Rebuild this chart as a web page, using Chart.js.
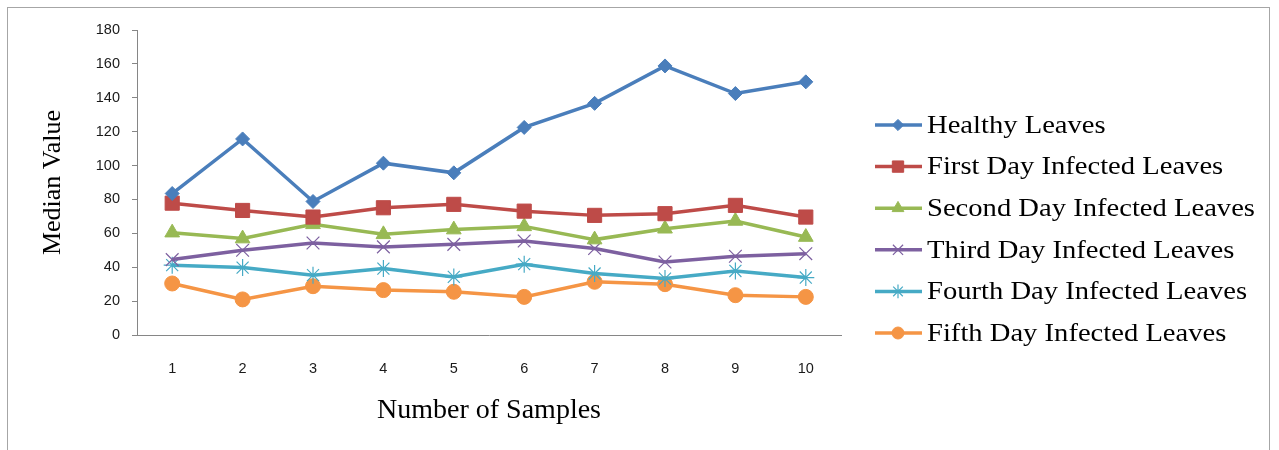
<!DOCTYPE html>
<html>
<head>
<meta charset="utf-8">
<script src="https://cdn.jsdelivr.net/npm/chart.js@4.4.1/dist/chart.umd.min.js"></script>
<style>
  html, body { margin: 0; padding: 0; background: #fff; }
  #wrap { position: relative; width: 1279px; height: 450px; }
  #frame { position: absolute; left: 7px; top: 7px; width: 1263px; height: 460px; border: 1px solid #a6a6a6; box-sizing: border-box; pointer-events: none; }
  canvas { display: block; }
</style>
</head>
<body>
<div id="wrap">
  <canvas id="c" width="1279" height="450"></canvas>
  <div id="frame"></div>
</div>
<script>
const categories = ['1', '2', '3', '4', '5', '6', '7', '8', '9', '10'];
const seriesNames = ['Healthy Leaves', 'First Day Infected Leaves', 'Second Day Infected Leaves',
  'Third Day Infected Leaves', 'Fourth Day Infected Leaves', 'Fifth Day Infected Leaves'];
const healthy = [83.5, 115.7, 78.8, 101.4, 95.7, 122.5, 136.7, 158.8, 142.5, 149.4];
const firstDay = [77.8, 73.5, 69.6, 75.1, 77.1, 73.1, 70.6, 71.6, 76.5, 69.6];
const secondDay = [60.4, 56.9, 65.3, 59.4, 62.2, 64.1, 56.3, 62.7, 67.3, 57.8];
const thirdDay = [44.5, 50.0, 54.3, 52.0, 53.5, 55.5, 51.0, 43.1, 46.5, 48.0];
const fourthDay = [41.2, 39.8, 35.3, 39.2, 34.3, 41.8, 36.3, 33.3, 37.8, 33.9];
const fifthDay = [30.4, 21.0, 28.8, 26.5, 25.5, 22.5, 31.4, 30.0, 23.5, 22.5];
const yTicks = [0, 20, 40, 60, 80, 100, 120, 140, 160, 180];

const colors = ['#4A7EBB', '#BE4B48', '#98B954', '#7D60A0', '#46AAC5', '#F59545'];
const styles = ['rectRot', 'rect', 'triangle', 'crossRot', 'star', 'circle'];
const radii = [7, 10, 8.5, 9, 8.5, 7.5];
const pbw = [1, 1, 1, 1.2, 1.2, 1];
const allData = [healthy, firstDay, secondDay, thirdDay, fourthDay, fifthDay];

const datasets = allData.map((d, i) => ({
  label: seriesNames[i],
  data: d,
  borderColor: colors[i],
  backgroundColor: colors[i],
  borderWidth: 3.5,
  pointStyle: styles[i],
  pointRadius: radii[i],
  pointHoverRadius: radii[i],
  pointBorderWidth: pbw[i],
  pointBorderColor: colors[i],
  pointBackgroundColor: colors[i],
  tension: 0,
  fill: false
}));

const legendPlugin = {
  id: 'customLegend',
  afterDraw(chart) {
    const ctx = chart.ctx;
    const x0 = 875, x1 = 922, xm = 898, tx = 927;
    const y0 = 125, dy = 41.6;
    ctx.save();
    chart.data.datasets.forEach((ds, i) => {
      const y = y0 + i * dy;
      ctx.strokeStyle = ds.borderColor;
      ctx.lineWidth = 3.5;
      ctx.beginPath();
      ctx.moveTo(x0, y);
      ctx.lineTo(x1, y);
      ctx.stroke();
      ctx.fillStyle = ds.backgroundColor;
      ctx.strokeStyle = ds.borderColor;
      ctx.lineWidth = ds.pointBorderWidth;
      Chart.helpers.drawPoint(ctx, { pointStyle: ds.pointStyle, rotation: 0, radius: ds.pointRadius * 0.8, borderWidth: ds.pointBorderWidth }, xm, y);
      ctx.save();
      ctx.translate(tx, y + 1);
      ctx.scale(1.1, 1);
      ctx.fillStyle = '#000';
      ctx.font = '26px "Liberation Serif"';
      ctx.textAlign = 'left';
      ctx.textBaseline = 'middle';
      ctx.fillText(ds.label, 0, 0);
      ctx.restore();
    });
    ctx.restore();
  }
};

new Chart(document.getElementById('c'), {
  type: 'line',
  data: { labels: categories, datasets },
  options: {
    responsive: false,
    animation: false,
    layout: { padding: { left: 38, right: 438, top: 30, bottom: 23 } },
    plugins: { legend: { display: false }, tooltip: { enabled: false } },
    scales: {
      x: {
        offset: true,
        grid: { display: false, drawTicks: false },
        border: { color: '#868686', width: 1 },
        ticks: { color: '#1a1a1a', font: { family: '"Liberation Sans"', size: 14.5 }, padding: 25, maxRotation: 0 },
        title: { display: true, text: 'Number of Samples', color: '#000', font: { family: '"Liberation Serif"', size: 28 }, padding: { top: 10, bottom: 0 } },
        afterFit(s) { s.height = 92; }
      },
      y: {
        min: 0, max: 180,
        afterBuildTicks(s) { s.ticks = yTicks.map(v => ({ value: v })); },
        grid: { display: true, drawOnChartArea: false, drawTicks: true, tickLength: 5, tickColor: '#868686' },
        border: { color: '#868686', width: 1 },
        ticks: { color: '#1a1a1a', font: { family: '"Liberation Sans"', size: 14.5 }, padding: 12 },
        title: { display: true, text: 'Median Value', color: '#000', font: { family: '"Liberation Serif"', size: 26 }, padding: { top: 0, bottom: 20 } },
        afterFit(s) { s.width = 99; }
      }
    }
  },
  plugins: [legendPlugin]
});
</script>
</body>
</html>
